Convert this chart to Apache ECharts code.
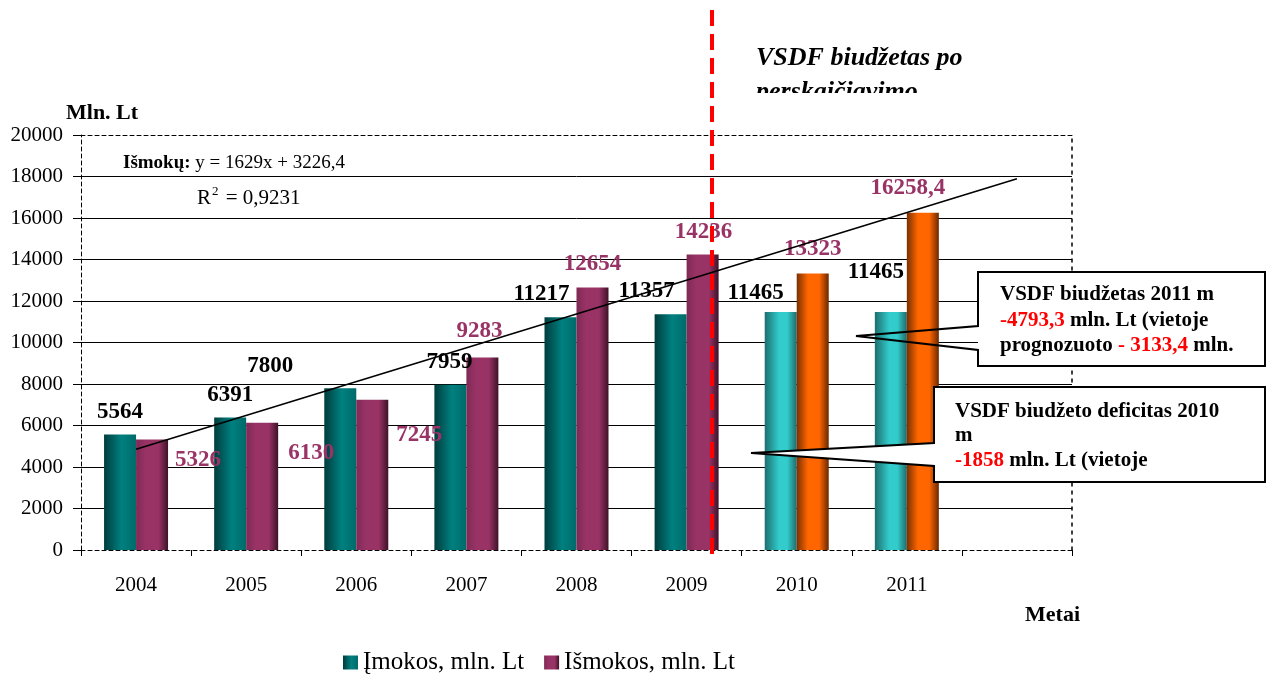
<!DOCTYPE html>
<html>
<head>
<meta charset="utf-8">
<script src="https://cdn.jsdelivr.net/npm/echarts@6/dist/echarts.min.js"></script>
<style>
html, body { margin: 0; padding: 0; background: #fff; }
#main { width: 1270px; height: 675px; }
</style>
</head>
<body>
<div id="main"></div>
<script>
var years = ['2004', '2005', '2006', '2007', '2008', '2009', '2010', '2011', ''];
var imokos = [5564, 6391, 7800, 7959, 11217, 11357, 11465, 11465];
var ismokos = [5326, 6130, 7245, 9283, 12654, 14236, 13323, 16258.4];
var forecastFrom = 6; // 2010, 2011 - po perskaičiavimo
// Išmokų trendas y = 1629x + 3226,4 (x = 1 ir x = 9)
var trendEnds = [4855.4, 17887.4];
// kur stovi skaičiai virš stulpelių
var imokosLabelShift = [[0, -6], [0, -6], [-70, -6], [-1, -6], [-19, -7], [-24, -7], [-25, -3], [-15, -24]];
var ismokosLabelShift = [[46, 37], [49, 47], [47, 52], [-3, -10], [0, -7], [1, -6], [0, -8], [-15, -8]];

var FONT = '"Liberation Serif", "Times New Roman", serif';

function grad(stops) {
    return new echarts.graphic.LinearGradient(0, 0, 1, 0, stops.map(function (s) {
        return { offset: s[0], color: s[1] };
    }));
}
var tealColor = grad([[0, '#003c3c'], [0.55, '#008080'], [1, '#006a6a']]);
var purpleColor = grad([[0, '#7e2a55'], [0.3, '#993366'], [0.7, '#993366'], [1, '#3e1227']]);
var cyanColor = grad([[0, '#1d6e6e'], [0.45, '#33cccc'], [0.7, '#33cccc'], [1, '#1f6b6b']]);
var orangeColor = grad([[0, '#7a3000'], [0.35, '#ff6600'], [0.7, '#ff6600'], [1, '#6a2800']]);

function fmt(v) {
    return String(v).replace('.', ',');
}

function buildData(values, shifts, normal, forecast) {
    var out = [];
    for (var i = 0; i < values.length; i++) {
        out.push({
            value: values[i],
            itemStyle: { color: i >= forecastFrom ? forecast : normal },
            label: { offset: shifts[i] }
        });
    }
    return out;
}

var labelBase = function (color) {
    return {
        show: true,
        position: 'top',
        fontFamily: FONT,
        fontSize: 23,
        fontWeight: 'bold',
        color: color,
        formatter: function (p) { return fmt(p.value); }
    };
};

var dashed = { color: '#000', width: 1, type: [4, 3] };

var myChart = echarts.init(document.getElementById('main'));
var option = {
    animation: false,
    grid: { left: 81, right: 198, top: 135, bottom: 125 },
    legend: {
        left: 343,
        top: 650,
        padding: 0,
        icon: 'rect',
        itemWidth: 15,
        itemHeight: 14,
        itemGap: 20,
        textStyle: { fontFamily: FONT, fontSize: 25, color: '#000' },
        data: ['Įmokos, mln. Lt', 'Išmokos, mln. Lt']
    },
    xAxis: [{
        type: 'category',
        data: years,
        axisLine: { lineStyle: dashed },
        axisTick: { show: true, length: 6, lineStyle: { color: '#000' } },
        axisLabel: { fontFamily: FONT, fontSize: 21, color: '#000', margin: 25 },
        splitLine: { show: false }
    }, {
        type: 'category',
        position: 'top',
        data: years,
        axisLine: { show: true, onZero: false, lineStyle: dashed },
        axisTick: { show: false },
        axisLabel: { show: false }
    }],
    yAxis: [{
        type: 'value',
        min: 0,
        max: 20000,
        interval: 2000,
        name: 'Mln. Lt',
        nameGap: 7,
        nameTextStyle: { fontFamily: FONT, fontSize: 22, fontWeight: 'bold', color: '#000', align: 'left', padding: [0, 0, 0, -15] },
        axisLine: { show: true, lineStyle: dashed },
        axisTick: { show: true, length: 8, lineStyle: { color: '#000' } },
        axisLabel: {
            fontFamily: FONT, fontSize: 21, color: '#000', margin: 18,
            formatter: function (v) { return String(v); }
        },
        splitLine: { show: true, showMinLine: false, showMaxLine: false, lineStyle: { color: '#000', width: 1 } }
    }, {
        type: 'value',
        position: 'right',
        min: 0,
        max: 20000,
        interval: 2000,
        axisLine: { show: true, onZero: false, lineStyle: { color: '#000', width: 1.5, type: [3, 5] } },
        axisTick: { show: false },
        axisLabel: { show: false },
        splitLine: { show: false }
    }],
    series: [{
        name: 'Įmokos, mln. Lt',
        type: 'bar',
        barWidth: 32,
        barGap: '0%',
        itemStyle: { color: tealColor },
        label: labelBase('#000'),
        data: buildData(imokos, imokosLabelShift, tealColor, cyanColor)
    }, {
        name: 'Išmokos, mln. Lt',
        type: 'bar',
        barWidth: 32,
        barGap: '0%',
        itemStyle: { color: purpleColor },
        label: labelBase('#993366'),
        data: buildData(ismokos, ismokosLabelShift, purpleColor, orangeColor)
    }, {
        // tik trendo linijai (kategorijos centrai)
        name: 'trend',
        type: 'line',
        data: [],
        z: 5,
        markLine: {
            silent: true,
            symbol: ['none', 'none'],
            label: { show: false },
            lineStyle: { color: '#000', width: 1.6, type: 'solid' },
            data: [[{ coord: [0, trendEnds[0]] }, { coord: [8, trendEnds[1]] }]]
        }
    }],
    graphic: [
        // lygtis
        {
            type: 'text', x: 123, y: 163, z: 50,
            style: {
                text: '{b|Išmokų:}{n| y = 1629x + 3226,4}',
                verticalAlign: 'middle',
                rich: {
                    b: { fontFamily: FONT, fontSize: 19, fontWeight: 'bold', fill: '#000' },
                    n: { fontFamily: FONT, fontSize: 19, fill: '#000' }
                }
            }
        },
        {
            type: 'text', x: 197, y: 198, z: 50,
            style: {
                text: '{n|R}{s|2}{n| = 0,9231}',
                verticalAlign: 'middle',
                rich: {
                    n: { fontFamily: FONT, fontSize: 21, fill: '#000', lineHeight: 26 },
                    s: { fontFamily: FONT, fontSize: 13, fill: '#000', verticalAlign: 'top', lineHeight: 14, padding: [0, 2, 0, 1] }
                }
            }
        },
        // raudona riba
        {
            type: 'line', z: 100,
            shape: { x1: 712, y1: 10, x2: 712, y2: 556 },
            style: { stroke: '#ff0000', lineWidth: 4, lineDash: [16, 8] }
        },
        {
            type: 'text', x: 756, y: 41, z: 100,
            style: {
                text: 'VSDF biudžetas po\nperskaičiavimo',
                font: 'italic bold 26px ' + FONT,
                fill: '#000',
                lineHeight: 34,
                verticalAlign: 'top'
            }
        },
        {
            type: 'rect', z: 101,
            shape: { x: 740, y: 93, width: 320, height: 40 },
            style: { fill: '#fff' }
        },
        {
            type: 'text', x: 1080, y: 615, z: 50,
            style: { text: 'Metai', font: 'bold 22px ' + FONT, fill: '#000', align: 'right', verticalAlign: 'middle' }
        },
        // 2011 m. langelis
        {
            type: 'rect', z: 100,
            shape: { x: 978, y: 272, width: 287, height: 94 },
            style: { fill: '#fff' }
        },
        {
            type: 'polygon', z: 101,
            shape: { points: [[978, 272], [1265, 272], [1265, 366], [978, 366], [978, 350], [856, 336], [978, 326]] },
            style: { fill: null, stroke: '#000', lineWidth: 2 }
        },
        {
            type: 'text', x: 1000, y: 282, z: 102,
            style: {
                text: '{b|VSDF biudžetas 2011 m}\n{r|-4793,3}{b| mln. Lt (vietoje}\n{b|prognozuoto }{r|- 3133,4}{b| mln.}',
                verticalAlign: 'top',
                rich: {
                    b: { fontFamily: FONT, fontSize: 21, fontWeight: 'bold', fill: '#000', lineHeight: 25.5 },
                    r: { fontFamily: FONT, fontSize: 21, fontWeight: 'bold', fill: '#ff0000', lineHeight: 25.5 }
                }
            }
        },
        // 2010 m. langelis
        {
            type: 'polygon', z: 101,
            shape: { points: [[934, 387], [1265, 387], [1265, 482], [934, 482], [934, 466], [751, 453], [934, 443]] },
            style: { fill: '#fff', stroke: '#000', lineWidth: 2 }
        },
        {
            type: 'text', x: 955, y: 399, z: 102,
            style: {
                text: '{b|VSDF biudžeto deficitas 2010}\n{b|m}\n{r|-1858}{b| mln. Lt (vietoje}',
                verticalAlign: 'top',
                rich: {
                    b: { fontFamily: FONT, fontSize: 21, fontWeight: 'bold', fill: '#000', lineHeight: 24.5 },
                    r: { fontFamily: FONT, fontSize: 21, fontWeight: 'bold', fill: '#ff0000', lineHeight: 24.5 }
                }
            }
        }
    ]
};
myChart.setOption(option);
</script>
</body>
</html>
